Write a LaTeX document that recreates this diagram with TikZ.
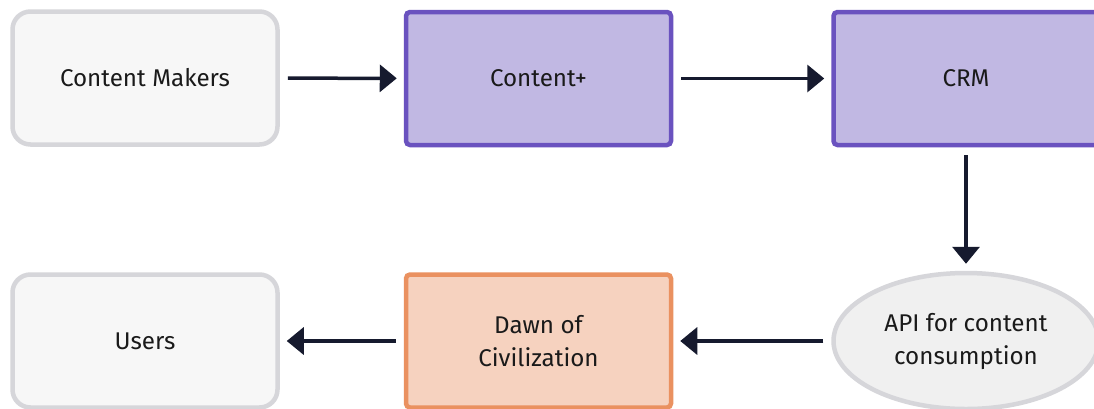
\documentclass[tikz,border=0pt]{standalone}
\usepackage{fontspec}
\setmainfont{Fira Sans}
\usetikzlibrary{arrows.meta,shapes.geometric}
\definecolor{grayfill}{HTML}{F7F7F7}
\definecolor{grayline}{HTML}{D6D6DA}
\definecolor{purpfill}{HTML}{C1B8E3}
\definecolor{purpline}{HTML}{6A52BF}
\definecolor{orfill}{HTML}{F6D2BF}
\definecolor{orline}{HTML}{EA9160}
\definecolor{ellfill}{HTML}{F0F0F0}
\definecolor{arrowc}{HTML}{161A2E}
\definecolor{textc}{HTML}{1A1A1A}
\tikzset{
  base/.style={line width=4.5pt, minimum width=265pt, minimum height=133pt, inner sep=0pt,
    align=center, text=textc, font=\fontsize{24.2}{33}\selectfont},
  graybox/.style={base, rectangle, rounded corners=18pt, draw=grayline, fill=grayfill},
  purpbox/.style={base, rectangle, rounded corners=4pt, draw=purpline, fill=purpfill},
  orbox/.style={base, rectangle, rounded corners=4pt, draw=orline, fill=orfill},
  ellbox/.style={base, ellipse, draw=grayline, fill=ellfill, minimum height=136pt},
  conn/.style={draw=arrowc, line width=3.5pt, -{Triangle[length=17pt,width=27pt]},
    shorten <=8pt, shorten >=7pt}
}
\begin{document}
\begin{tikzpicture}[x=1pt,y=-1pt]
\clip (0,0) rectangle (1094,408);
\fill[white] (0,0) rectangle (1094,408);
\node[graybox] (cm) at (145,78) {Content Makers};
\node[purpbox] (cp) at (538.5,78.5) {Content+};
\node[purpbox] (crm) at (966,78.5) {CRM};
\node[ellbox] (api) at (966,341) {API for content\\consumption};
\node[orbox] (dawn) at (538.5,341) {Dawn of\\Civilization};
\node[graybox] (users) at (145,341) {Users};
\draw[conn] (cm) -- (cp);
\draw[conn] (cp) -- (crm);
\draw[conn] (crm) -- (api);
\draw[conn] (api) -- (dawn);
\draw[conn] (dawn) -- (users);
\end{tikzpicture}
\end{document}
